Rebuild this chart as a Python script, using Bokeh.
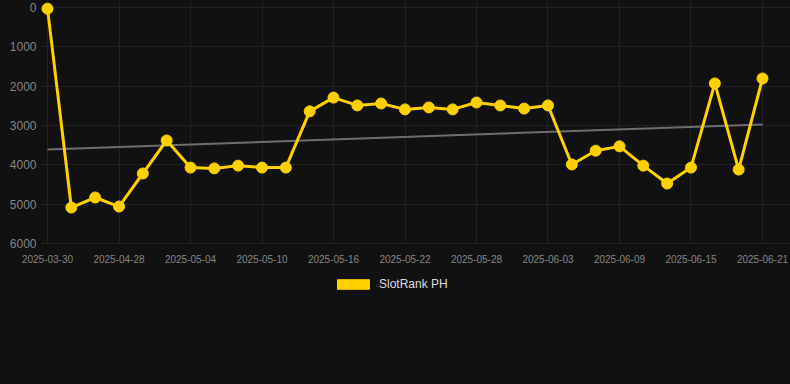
import numpy as np
from bokeh.plotting import figure
from bokeh.layouts import column
from bokeh.models import Range1d, FixedTicker, Legend, LegendItem, ColumnDataSource
from bokeh.embed import file_html
from bokeh.resources import INLINE

dates = ["2025-03-30", "2025-04-24", "2025-04-26", "2025-04-28", "2025-04-30", "2025-05-02",
         "2025-05-04", "2025-05-06", "2025-05-08", "2025-05-10", "2025-05-12", "2025-05-14",
         "2025-05-16", "2025-05-18", "2025-05-20", "2025-05-22", "2025-05-24", "2025-05-26",
         "2025-05-28", "2025-05-30", "2025-06-01", "2025-06-03", "2025-06-05", "2025-06-07",
         "2025-06-09", "2025-06-11", "2025-06-13", "2025-06-15", "2025-06-17", "2025-06-19",
         "2025-06-21"]
ranks = [30, 5085, 4830, 5060, 4220, 3380, 4070, 4090, 4020, 4070, 4070, 2640, 2290, 2490,
         2440, 2590, 2540, 2590, 2415, 2490, 2570, 2490, 3990, 3640, 3530, 4020, 4475, 4070,
         1930, 4120, 1805]
y_ticks = [0, 1000, 2000, 3000, 4000, 5000, 6000]
series_name = "SlotRank PH"

x = list(range(len(dates)))
slope, intercept = np.polyfit(x, ranks, 1)
trend = [intercept + slope * xi for xi in (x[0], x[-1])]

BG = "#111111"
GOLD = "#ffd000"

p = figure(width=790, height=270, output_backend="svg", toolbar_location=None,
           x_range=Range1d(-0.294, 31.175), y_range=Range1d(6025, -178),
           min_border_left=40, min_border_right=0, min_border_top=0, min_border_bottom=26,
           background_fill_color=BG, border_fill_color=BG, outline_line_color=None)

p.xgrid.grid_line_color = "#212121"
p.ygrid.grid_line_color = "#212121"
p.xgrid.ticker = FixedTicker(ticks=list(range(0, len(dates), 3)))
p.ygrid.ticker = FixedTicker(ticks=y_ticks)

p.xaxis.ticker = FixedTicker(ticks=list(range(0, len(dates), 3)))
p.xaxis.major_label_overrides = {i: dates[i] for i in range(0, len(dates), 3)}
p.yaxis.ticker = FixedTicker(ticks=y_ticks)
for ax in (p.xaxis[0], p.yaxis[0]):
    ax.axis_line_color = None
    ax.major_tick_line_color = None
    ax.minor_tick_line_color = None
    ax.major_tick_out = 0
    ax.major_tick_in = 0
    ax.minor_tick_out = 0
    ax.major_label_text_color = "#858585"
    ax.major_label_text_font = "Liberation Sans"
p.xaxis.major_label_text_font_size = "10px"
p.yaxis.major_label_text_font_size = "12px"
p.xaxis.major_label_standoff = 10
p.yaxis.major_label_standoff = 4

p.line([x[0], x[-1]], trend, line_color="#6e6e6e", line_width=2)
src = ColumnDataSource(dict(x=x, y=ranks))
p.line("x", "y", source=src, line_color=GOLD, line_width=3)
p.scatter("x", "y", source=src, size=11, fill_color=GOLD, line_color=GOLD)

# legend strip below the chart
q = figure(width=790, height=114, output_backend="svg", toolbar_location=None,
           x_range=Range1d(0, 1), y_range=Range1d(0, 1),
           x_axis_location=None, y_axis_location=None,
           min_border_left=0, min_border_right=0, min_border_top=0, min_border_bottom=0,
           background_fill_color=BG, border_fill_color=BG, outline_line_color=None)
q.grid.visible = False
# swatch renderer for the legend entry, kept outside the visible range
swatch = q.quad(left=[5], right=[6], top=[5], bottom=[6], fill_color=GOLD, line_color=GOLD)
legend = Legend(items=[LegendItem(label=series_name, renderers=[swatch])],
                location=(293, 93), orientation="horizontal",
                background_fill_alpha=0, border_line_color=None,
                glyph_width=40, glyph_height=12, label_text_color="#dddddd",
                label_text_font="Liberation Sans", label_text_font_size="12px",
                padding=0, margin=0, label_standoff=6)
q.add_layout(legend, "center")

layout = column(p, q, spacing=0)
html = file_html(layout, INLINE)
html = html.replace("</head>",
                    "<style>html, body { background: #111111; }</style>\n</head>", 1)
open("out.html", "w").write(html)
